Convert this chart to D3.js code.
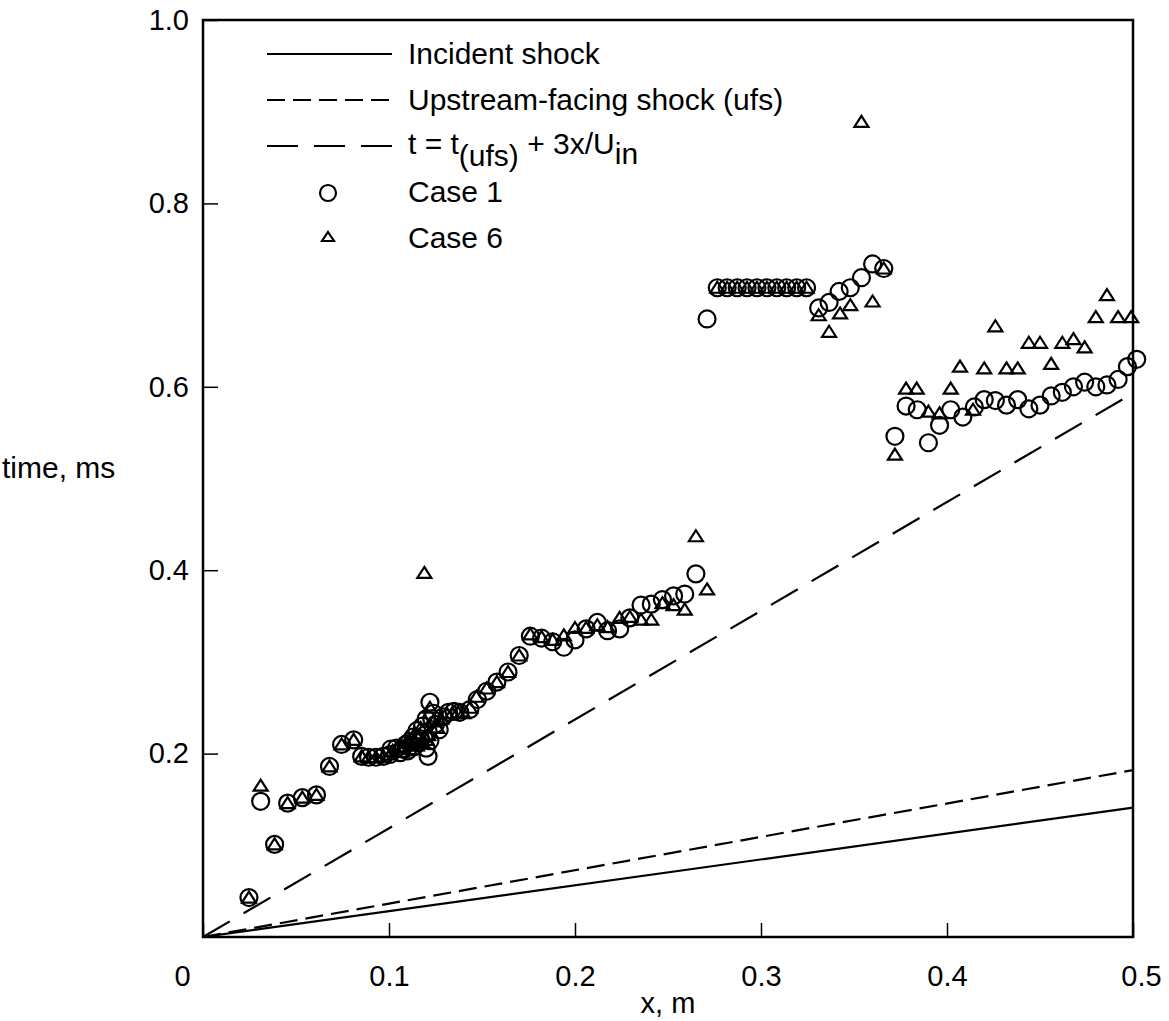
<!DOCTYPE html>
<html>
<head>
<meta charset="utf-8">
<script src="https://cdn.jsdelivr.net/npm/d3@7"></script>
<style>
  body { margin: 0; background: #fff; }
  text { font-family: 'Liberation Sans', Arial, sans-serif; fill: #000; }
</style>
</head>
<body>
<svg width="1169" height="1021"></svg>
<script>
'use strict'

// x in m, time in ms
let xTicks = [0, 0.1, 0.2, 0.3, 0.4, 0.5];
let yTicks = [0.2, 0.4, 0.6, 0.8, 1.0];

let incident = [[0, 0], [0.5, 0.141]];
let ufs = [[0, 0], [0.5, 0.182]];
let trend = [[0, 0], [0.5, 0.593]];

let case1 = [
    [0.0247, 0.043], [0.031, 0.148], [0.0385, 0.101], [0.0455, 0.146], [0.0534, 0.152],
    [0.061, 0.155], [0.068, 0.186], [0.0745, 0.21], [0.081, 0.215],
    [0.0853, 0.197], [0.089, 0.196], [0.093, 0.196], [0.097, 0.197], [0.1005, 0.199],
    [0.101, 0.205], [0.104, 0.206], [0.107, 0.205], [0.109, 0.21], [0.111, 0.213],
    [0.106, 0.201], [0.110, 0.203], [0.113, 0.207], [0.114, 0.214], [0.117, 0.216],
    [0.113, 0.218], [0.115, 0.225], [0.116, 0.212], [0.118, 0.23], [0.119, 0.22],
    [0.120, 0.206], [0.121, 0.224], [0.122, 0.214], [0.124, 0.244], [0.120, 0.238],
    [0.121, 0.197], [0.122, 0.256], [0.123, 0.238], [0.125, 0.232], [0.127, 0.226],
    [0.129, 0.24], [0.132, 0.245], [0.135, 0.246], [0.138, 0.245], [0.1435, 0.248],
    [0.1475, 0.259], [0.1525, 0.268], [0.158, 0.278], [0.164, 0.289], [0.170, 0.307],
    [0.176, 0.328], [0.182, 0.326], [0.188, 0.322], [0.194, 0.316], [0.200, 0.324],
    [0.206, 0.336], [0.212, 0.343], [0.2175, 0.334], [0.224, 0.336], [0.2295, 0.348],
    [0.2355, 0.362], [0.241, 0.363], [0.247, 0.368], [0.253, 0.372], [0.259, 0.374],
    [0.265, 0.396], [0.271, 0.674],
    [0.2765, 0.708], [0.2818, 0.708], [0.2872, 0.708], [0.2925, 0.708], [0.2978, 0.708],
    [0.3032, 0.708], [0.3085, 0.708], [0.3138, 0.708], [0.3192, 0.708], [0.3245, 0.708],
    [0.331, 0.686], [0.3366, 0.692], [0.342, 0.704], [0.348, 0.708], [0.354, 0.719],
    [0.360, 0.734], [0.366, 0.729],
    [0.372, 0.546], [0.378, 0.579], [0.384, 0.575], [0.390, 0.539], [0.396, 0.558],
    [0.402, 0.575], [0.4085, 0.567], [0.4147, 0.578], [0.420, 0.586], [0.426, 0.585],
    [0.432, 0.580], [0.438, 0.586], [0.444, 0.576], [0.450, 0.580], [0.456, 0.590],
    [0.462, 0.594], [0.468, 0.600], [0.474, 0.605], [0.480, 0.600], [0.486, 0.602],
    [0.492, 0.608], [0.497, 0.622], [0.502, 0.630]
];

let case6 = [
    [0.0247, 0.043], [0.031, 0.165], [0.0385, 0.101], [0.0455, 0.146], [0.0534, 0.152],
    [0.061, 0.155], [0.068, 0.186], [0.0745, 0.21], [0.081, 0.215],
    [0.0853, 0.197], [0.089, 0.196], [0.093, 0.196], [0.097, 0.197], [0.1005, 0.199],
    [0.102, 0.203], [0.105, 0.207], [0.108, 0.208], [0.110, 0.212], [0.112, 0.216],
    [0.107, 0.202], [0.111, 0.205], [0.115, 0.209], [0.118, 0.212], [0.121, 0.220],
    [0.114, 0.222], [0.116, 0.218], [0.117, 0.228], [0.119, 0.397], [0.120, 0.215],
    [0.122, 0.25], [0.124, 0.235], [0.126, 0.228], [0.128, 0.238], [0.131, 0.244],
    [0.134, 0.244], [0.137, 0.245], [0.140, 0.244], [0.1435, 0.25],
    [0.147, 0.262], [0.1525, 0.271], [0.158, 0.278], [0.164, 0.289], [0.170, 0.307],
    [0.176, 0.33], [0.182, 0.327], [0.188, 0.324], [0.194, 0.329], [0.200, 0.337],
    [0.206, 0.337], [0.212, 0.34], [0.2175, 0.338], [0.224, 0.348], [0.2295, 0.349],
    [0.2355, 0.346], [0.241, 0.346], [0.247, 0.364], [0.253, 0.362], [0.259, 0.357],
    [0.265, 0.437], [0.271, 0.379],
    [0.2765, 0.708], [0.2818, 0.708], [0.2872, 0.708], [0.2925, 0.708], [0.2978, 0.708],
    [0.3032, 0.708], [0.3085, 0.708], [0.3138, 0.708], [0.3192, 0.708], [0.3245, 0.708],
    [0.331, 0.678], [0.3366, 0.660], [0.3425, 0.680], [0.348, 0.689], [0.354, 0.889],
    [0.360, 0.693], [0.366, 0.729],
    [0.372, 0.526], [0.378, 0.598], [0.3837, 0.598], [0.390, 0.573], [0.396, 0.571],
    [0.402, 0.598], [0.407, 0.622], [0.414, 0.575], [0.420, 0.620], [0.426, 0.666],
    [0.432, 0.620], [0.438, 0.620], [0.444, 0.648], [0.450, 0.648], [0.456, 0.625],
    [0.462, 0.648], [0.468, 0.652], [0.474, 0.643], [0.480, 0.676], [0.486, 0.700],
    [0.492, 0.676], [0.499, 0.676]
];

let svg = d3.select('svg'),
    margin = {top: 20, left: 203},
    width = 930,
    height = 917;

let x = d3.scaleLinear().domain([0, 0.5]).range([margin.left, margin.left + width]);
let y = d3.scaleLinear().domain([0, 1]).range([margin.top + height, margin.top]);

// frame
svg.append('rect')
    .attr('x', x(0))
    .attr('y', y(1))
    .attr('width', width)
    .attr('height', height)
    .attr('fill', 'none')
    .attr('stroke', '#000')
    .attr('stroke-width', 2.5);

// axes with inward ticks
let xAxis = svg.append('g')
    .attr('transform', 'translate(0,' + y(0) + ')')
    .call(d3.axisBottom(x).tickValues(xTicks).tickSizeInner(-14).tickSizeOuter(0).tickPadding(28)
        .tickFormat(function(d) { return d === 0 ? '0' : d3.format('.1f')(d); }));
xAxis.select('.domain').remove();
xAxis.selectAll('line').attr('stroke-width', 1.5);
xAxis.selectAll('text')
    .attr('font-size', 29)
    .attr('font-family', null)
    .attr('dx', function(d) { return d === 0 ? -21 : (d === 0.5 ? 8 : 0); });

let yAxis = svg.append('g')
    .attr('transform', 'translate(' + x(0) + ',0)')
    .call(d3.axisLeft(y).tickValues(yTicks).tickSizeInner(-15).tickSizeOuter(0).tickPadding(14)
        .tickFormat(d3.format('.1f')));
yAxis.select('.domain').remove();
yAxis.selectAll('line').attr('stroke-width', 1.5);
yAxis.selectAll('text').attr('font-size', 29).attr('font-family', null);

svg.append('text')
    .attr('x', (x(0) + x(0.5)) / 2)
    .attr('y', 1013)
    .attr('text-anchor', 'middle')
    .attr('font-size', 29)
    .text('x, m');

svg.append('text')
    .attr('x', 2)
    .attr('y', 478)
    .attr('font-size', 30)
    .text('time, ms');

// lines
let line = d3.line()
    .x(function(d) { return x(d[0]); })
    .y(function(d) { return y(d[1]); });

let lineStyles = [
    {data: incident, dash: null},
    {data: ufs, dash: '18,8'},
    {data: trend, dash: '31,16'}
];

svg.append('g')
    .selectAll('path')
    .data(lineStyles)
    .enter().append('path')
    .attr('d', function(d) { return line(d.data); })
    .attr('fill', 'none')
    .attr('stroke', '#000')
    .attr('stroke-width', 2.2)
    .attr('stroke-dasharray', function(d) { return d.dash; });

// markers
let triangle = 'M0,-6L7,5L-7,5Z';

svg.append('g')
    .selectAll('circle')
    .data(case1)
    .enter().append('circle')
    .attr('cx', function(d) { return x(d[0]); })
    .attr('cy', function(d) { return y(d[1]); })
    .attr('r', 8.5)
    .attr('fill', 'none')
    .attr('stroke', '#000')
    .attr('stroke-width', 2.2);

svg.append('g')
    .selectAll('path')
    .data(case6)
    .enter().append('path')
    .attr('transform', function(d) { return 'translate(' + x(d[0]) + ',' + y(d[1]) + ')'; })
    .attr('d', triangle)
    .attr('fill', 'none')
    .attr('stroke', '#000')
    .attr('stroke-width', 2.2);

// legend
let legend = svg.append('g').attr('transform', 'translate(267,54)');
let rowGap = 46;

let legendLines = [null, '18,8', '31,16'];
legend.selectAll('line')
    .data(legendLines)
    .enter().append('line')
    .attr('x1', 0)
    .attr('x2', 125)
    .attr('y1', function(d, i) { return i * rowGap; })
    .attr('y2', function(d, i) { return i * rowGap; })
    .attr('stroke', '#000')
    .attr('stroke-width', 2.2)
    .attr('stroke-dasharray', function(d) { return d; });

legend.append('circle')
    .attr('cx', 61)
    .attr('cy', 3 * rowGap + 1)
    .attr('r', 8)
    .attr('fill', 'none')
    .attr('stroke', '#000')
    .attr('stroke-width', 2.2);

legend.append('path')
    .attr('transform', 'translate(61,' + (4 * rowGap - 1) + ')')
    .attr('d', 'M0,-5L6,4L-6,4Z')
    .attr('fill', 'none')
    .attr('stroke', '#000')
    .attr('stroke-width', 2.2);

let labels = ['Incident shock', 'Upstream-facing shock (ufs)', null, 'Case 1', 'Case 6'];
labels.forEach(function(t, i) {
    if (t === null) return;
    legend.append('text')
        .attr('x', 141)
        .attr('y', i * rowGap + 10)
        .attr('font-size', 30)
        .text(t);
});

let eq = legend.append('text')
    .attr('x', 141)
    .attr('y', 2 * rowGap + 8)
    .attr('font-size', 30);
eq.append('tspan').text('t = t');
eq.append('tspan').attr('dy', 12).text('(ufs)');
eq.append('tspan').attr('dy', -12).text(' + 3x/U');
eq.append('tspan').attr('dy', 10).text('in');
</script>
</body>
</html>
